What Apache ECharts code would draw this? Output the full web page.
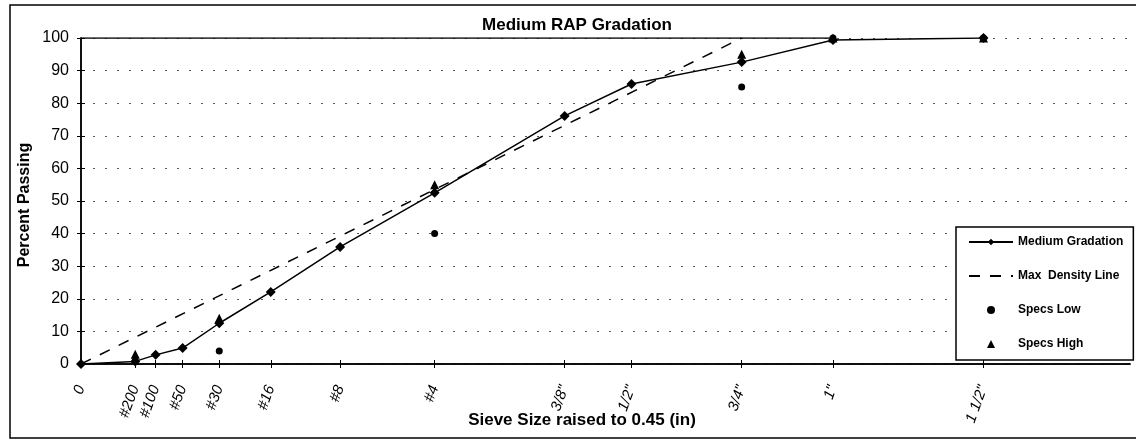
<!DOCTYPE html>
<html>
<head>
<meta charset="utf-8">
<script src="https://cdn.jsdelivr.net/npm/echarts@6/dist/echarts.min.js"></script>
<style>
html,body{margin:0;padding:0;background:#fff;}
#c{width:1136px;height:440px;}
</style>
</head>
<body>
<div id="c"></div>
<script>
// Sieve sizes (inches) and their labels; x axis = size^0.45
const sieveLabels = ['0', '#200', '#100', '#50', '#30', '#16', '#8', '#4', '3/8"', '1/2"', '3/4"', '1"', '1 1/2"'];
const sieveSizeIn = [0, 0.0029, 0.0059, 0.0117, 0.0232, 0.0469, 0.0937, 0.187, 0.375, 0.5, 0.75, 1.0, 1.5];

// Medium gradation percent passing, one per sieve
const mediumGradation = [0, 0.8, 2.8, 4.9, 12.5, 22.1, 35.9, 52.5, 76.1, 85.9, 92.6, 99.4, 100];

// Max density line: end points (sieve index, percent)
const maxDensitySieves = [0, 10];
const maxDensityValues = [0, 100];

// Specs (sieve index, percent)
const specsSieves = [1, 4, 7, 10, 11, 12];
const specsLow = [1, 4, 40, 85, 100, 100];
const specsHigh = [3, 14, 55, 95, 100, 100];

// Y ticks
const yTicks = [0, 10, 20, 30, 40, 50, 60, 70, 80, 90, 100];

const POW = 0.45;
const xPos = sieveSizeIn.map(s => Math.pow(s, POW));
const labelMap = {};
xPos.forEach((x, i) => { labelMap[x.toFixed(6)] = sieveLabels[i]; });

const FONT = 'Liberation Sans, Arial, sans-serif';
const chart = echarts.init(document.getElementById('c'), null, {renderer: 'canvas'});

const xCommon = {
  type: 'value', min: 0, max: 1.395, position: 'bottom',
  splitLine: {show: false},
  axisLine: {show: true, lineStyle: {color: '#000', width: 1.5}}
};
const yCommon = {
  type: 'value', min: yTicks[0], max: yTicks[yTicks.length - 1], interval: 10, position: 'left',
  axisLine: {show: true, lineStyle: {color: '#000', width: 1.5}}
};

chart.setOption({
  animation: false,
  backgroundColor: '#fff',
  textStyle: {fontFamily: FONT, color: '#000'},
  grid: {left: 81, right: 6, top: 38, bottom: 76, containLabel: false, outerBoundsMode: 'none'},
  xAxis: [
    Object.assign({}, xCommon, {
      axisTick: {show: true, inside: false, length: 4, customValues: xPos, lineStyle: {color: '#000', width: 1}},
      axisLabel: {
        show: true, rotate: 70, margin: 22, fontSize: 15, fontStyle: 'italic', color: '#000', fontFamily: FONT,
        customValues: xPos,
        formatter: v => labelMap[Number(v).toFixed(6)] || ''
      }
    }),
    Object.assign({}, xCommon, {
      axisTick: {show: true, inside: true, length: 4, customValues: xPos, lineStyle: {color: '#000', width: 1}},
      axisLabel: {show: false}
    })
  ],
  yAxis: [
    Object.assign({}, yCommon, {
      axisTick: {show: true, inside: false, length: 4, lineStyle: {color: '#000', width: 1}},
      axisLabel: {show: true, fontSize: 16, margin: 12, color: '#000', fontFamily: FONT},
      splitLine: {show: true, lineStyle: {color: '#555', width: 1, type: [2, 10]}}
    }),
    Object.assign({}, yCommon, {
      axisTick: {show: true, inside: true, length: 4, lineStyle: {color: '#000', width: 1}},
      axisLabel: {show: false},
      splitLine: {show: false}
    })
  ],
  legend: {
    orient: 'vertical',
    left: 956, top: 227,
    padding: [9, 10, 10, 12],
    itemGap: 22,
    itemWidth: 44, itemHeight: 8,
    symbolKeepAspect: true,
    borderColor: '#000', borderWidth: 1.5,
    backgroundColor: '#fff',
    textStyle: {fontSize: 12, fontWeight: 'bold', color: '#000', fontFamily: FONT},
    data: [
      {name: 'Medium Gradation'},
      {name: 'Max  Density Line', itemStyle: {opacity: 0}},
      {name: 'Specs Low', icon: 'circle'},
      {name: 'Specs High', icon: 'path://M5,0 L10,10 L0,10 Z'}
    ]
  },
  graphic: [
    {type: 'rect', silent: true, shape: {x: 10, y: 5, width: 1140, height: 433}, style: {fill: 'none', stroke: '#000', lineWidth: 1.5}, z: 100},
    {type: 'text', position: [577, 25], style: {text: 'Medium RAP Gradation', font: 'bold 17px ' + FONT, fill: '#000', textAlign: 'center', textVerticalAlign: 'middle'}},
    {type: 'text', position: [582, 420], style: {text: 'Sieve Size raised to 0.45 (in)', font: 'bold 17px ' + FONT, fill: '#000', textAlign: 'center', textVerticalAlign: 'middle'}},
    {type: 'text', position: [25, 205], rotation: Math.PI / 2, style: {text: 'Percent Passing', font: 'bold 16px ' + FONT, fill: '#000', textAlign: 'center', textVerticalAlign: 'middle'}}
  ],
  series: [
    {
      name: 'top', type: 'line', silent: true, symbol: 'none',
      data: [[0, 100], [1, 100]],
      lineStyle: {color: '#000', width: 1.5}, z: 1
    },
    {
      name: 'Max  Density Line', type: 'line', symbol: 'none',
      data: maxDensitySieves.map((s, i) => [xPos[s], maxDensityValues[i]]),
      lineStyle: {color: '#000', width: 1.5, type: [11, 10]},
      itemStyle: {color: '#000'}, z: 2
    },
    {
      name: 'Medium Gradation', type: 'line', symbol: 'diamond', symbolSize: 10,
      data: xPos.map((x, i) => [x, mediumGradation[i]]),
      lineStyle: {color: '#000', width: 1.5},
      itemStyle: {color: '#000', opacity: 1}, z: 3
    },
    {
      name: 'Specs Low', type: 'scatter', symbol: 'circle', symbolSize: 7,
      data: specsSieves.map((s, i) => [xPos[s], specsLow[i]]),
      itemStyle: {color: '#000', opacity: 1}, z: 4
    },
    {
      name: 'Specs High', type: 'scatter', symbol: 'triangle', symbolSize: 9,
      data: specsSieves.map((s, i) => [xPos[s], specsHigh[i]]),
      itemStyle: {color: '#000', opacity: 1}, z: 4
    }
  ]
});
</script>
</body>
</html>
